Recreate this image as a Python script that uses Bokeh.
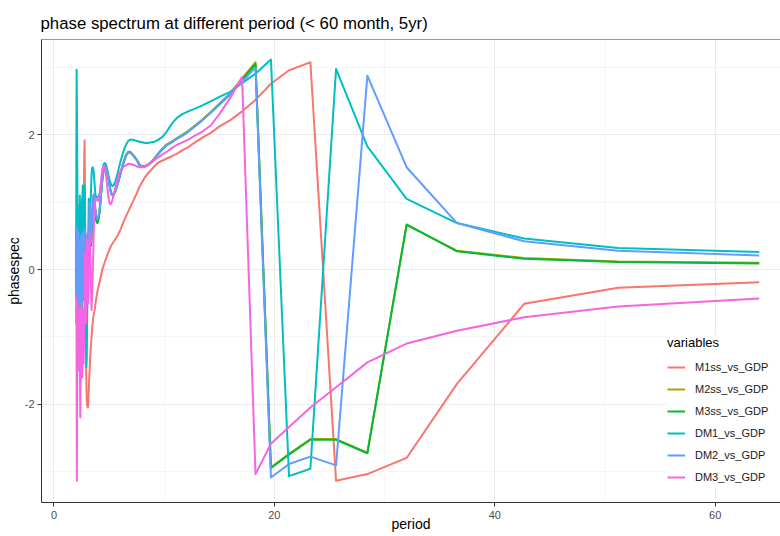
from bokeh.plotting import figure
from bokeh.models import Range1d, FixedTicker, Legend, LegendItem, Span
from bokeh.embed import file_html
from bokeh.resources import INLINE

# Period (months) of each spectral estimate
periods = [
    64.00, 51.20, 42.67, 36.57, 32.00, 28.44, 25.60, 23.27, 21.33, 19.69,
    18.29, 17.07, 16.00, 15.06, 14.22, 13.47, 12.80, 12.19, 11.64, 11.13,
    10.67, 10.24, 9.85, 9.48, 9.14, 8.83, 8.53, 8.26, 8.00, 7.76,
    7.53, 7.31, 7.11, 6.92, 6.74, 6.56, 6.40, 6.24, 6.10, 5.95,
    5.82, 5.69, 5.57, 5.45, 5.33, 5.22, 5.12, 5.02, 4.92, 4.83,
    4.74, 4.65, 4.57, 4.49, 4.41, 4.34, 4.27, 4.20, 4.13, 4.06,
    4.00, 3.94, 3.88, 3.82, 3.76, 3.71, 3.66, 3.61, 3.56, 3.51,
    3.46, 3.41, 3.37, 3.32, 3.28, 3.24, 3.20, 3.16, 3.12, 3.08,
    3.05, 3.01, 2.98, 2.94, 2.91, 2.88, 2.84, 2.81, 2.78, 2.75,
    2.72, 2.69, 2.67, 2.64, 2.61, 2.59, 2.56, 2.53, 2.51, 2.49,
    2.46, 2.44, 2.42, 2.39, 2.37, 2.35, 2.33, 2.31, 2.29, 2.27,
    2.25, 2.23, 2.21, 2.19, 2.17, 2.15, 2.13, 2.12, 2.10, 2.08,
    2.06, 2.05, 2.03, 2.02, 2.00,
]

m1ss_vs_gdp = [
    -0.19, -0.27, -0.51, -1.70, -2.80, -3.04, -3.14, 3.08, 2.96, 2.76,
    2.52, 2.35, 2.22, 2.13, 2.03, 1.96, 1.89, 1.82, 1.77, 1.72,
    1.68, 1.65, 1.62, 1.59, 1.54, 1.48, 1.43, 1.37, 1.30, 1.23,
    1.14, 1.06, 0.99, 0.93, 0.86, 0.80, 0.74, 0.68, 0.62, 0.56,
    0.52, 0.48, 0.45, 0.42, 0.39, 0.36, 0.33, 0.29, 0.25, 0.21,
    0.17, 0.13, 0.09, 0.05, 0.01, -0.04, -0.09, -0.14, -0.19, -0.24,
    -0.28, -0.33, -0.39, -0.45, -0.52, -0.58, -0.63, -0.67, -0.72, -0.80,
    -0.90, -1.00, -1.10, -1.22, -1.35, -1.48, -1.62, -1.80, -1.98, -2.05,
    -2.04, -2.02, -1.95, -1.70, -1.20, -0.50, 0.40, 1.30, 1.92, 1.70,
    1.20, 0.80, 0.55, 0.95, 1.15, 0.70, 0.30, 0.60, 1.05, 0.85,
    0.40, 0.20, 0.55, 0.90, 0.60, 0.25, 0.45, 0.80, 0.50, 0.15,
    0.35, 0.70, 0.95, 0.60, 0.30, 0.50, 0.85, 0.40, 0.20, 0.55,
    0.30, 0.10, 0.40, 0.25, 0.15,
]

m2ss_vs_gdp = [
    0.10, 0.12, 0.17, 0.28, 0.66, -2.72, -2.52, -2.52, -2.74, -2.94,
    3.08, 2.84, 2.62, 2.47, 2.34, 2.23, 2.14, 2.06, 2.00, 1.95,
    1.90, 1.86, 1.80, 1.73, 1.66, 1.60, 1.56, 1.54, 1.54, 1.56,
    1.63, 1.68, 1.72, 1.75, 1.75, 1.71, 1.64, 1.56, 1.47, 1.38,
    1.30, 1.23, 1.17, 1.13, 1.11, 1.13, 1.19, 1.28, 1.38, 1.46,
    1.52, 1.54, 1.53, 1.47, 1.37, 1.25, 1.11, 0.97, 0.85, 0.77,
    0.72, 0.70, 0.71, 0.77, 0.87, 0.98, 1.07, 1.11, 1.04, 0.89,
    0.71, 0.51, 0.36, 0.51, 0.81, 0.96, 0.66, 0.31, 0.01, 0.26,
    0.51, 0.16, -0.24, 0.06, 0.41, 0.26, -0.14, 0.21, 0.56, 0.36,
    -0.04, -0.44, -0.14, 0.26, 0.51, 0.16, -0.34, -0.64, -0.24, 0.21,
    0.46, 0.06, -0.39, -0.54, -0.19, 0.26, 0.41, 0.01, -0.44, -0.74,
    -0.34, 0.16, 0.51, 0.16, -0.29, -0.49, -0.04, 0.36, 0.59, 0.26,
    -0.14, -0.44, -0.24, 0.16, 0.41,
]

m3ss_vs_gdp = [
    0.09, 0.11, 0.16, 0.27, 0.67, -2.73, -2.53, -2.53, -2.75, -2.95,
    3.05, 2.82, 2.60, 2.46, 2.33, 2.22, 2.13, 2.05, 1.99, 1.94,
    1.89, 1.85, 1.79, 1.72, 1.65, 1.59, 1.55, 1.53, 1.53, 1.55,
    1.62, 1.67, 1.71, 1.74, 1.74, 1.70, 1.63, 1.55, 1.46, 1.37,
    1.29, 1.22, 1.16, 1.12, 1.10, 1.12, 1.18, 1.27, 1.37, 1.45,
    1.51, 1.53, 1.52, 1.46, 1.36, 1.24, 1.10, 0.96, 0.84, 0.76,
    0.71, 0.69, 0.70, 0.76, 0.86, 0.97, 1.06, 1.10, 1.03, 0.88,
    0.70, 0.50, 0.35, 0.50, 0.80, 0.95, 0.65, 0.30, 0.00, 0.25,
    0.50, 0.15, -0.25, 0.05, 0.40, 0.25, -0.15, 0.20, 0.55, 0.35,
    -0.05, -0.45, -0.15, 0.25, 0.50, 0.15, -0.35, -0.65, -0.25, 0.20,
    0.45, 0.05, -0.40, -0.55, -0.20, 0.25, 0.40, 0.00, -0.45, -0.75,
    -0.35, 0.15, 0.50, 0.15, -0.30, -0.50, -0.05, 0.35, 0.58, 0.25,
    -0.15, -0.45, -0.25, 0.15, 0.40,
]

dm1_vs_gdp = [
    0.26, 0.32, 0.46, 0.69, 1.05, 1.83, 2.98, -2.96, -3.07, 3.12,
    2.91, 2.77, 2.64, 2.57, 2.50, 2.44, 2.39, 2.35, 2.31, 2.25,
    2.16, 2.05, 1.97, 1.93, 1.90, 1.89, 1.88, 1.88, 1.89, 1.90,
    1.91, 1.92, 1.93, 1.93, 1.91, 1.86, 1.80, 1.72, 1.64, 1.55,
    1.46, 1.38, 1.31, 1.26, 1.24, 1.25, 1.29, 1.35, 1.42, 1.49,
    1.55, 1.58, 1.58, 1.55, 1.48, 1.39, 1.29, 1.19, 1.12, 1.09,
    1.08, 1.07, 1.07, 1.08, 1.12, 1.22, 1.34, 1.44, 1.50, 1.52,
    1.50, 1.40, 1.20, 0.95, 0.70, 0.55, 0.80, 1.05, 0.60, 0.20,
    -0.30, -0.80, -1.30, -1.45, -1.00, -0.40, 0.30, 0.90, 1.25, 1.10,
    0.60, 0.20, 0.50, 1.10, 1.25, 0.80, 0.40, 0.10, 0.60, 1.00,
    0.70, 0.30, -0.20, 0.20, 0.70, 1.10, 0.80, 0.40, 0.00, 0.50,
    0.90, 0.60, 0.20, -0.40, 0.10, 0.60, 1.00, 1.40, 2.00, 2.50,
    2.97, 2.60, 1.80, 0.80, 0.40,
]

dm2_vs_gdp = [
    0.21, 0.28, 0.42, 0.69, 1.52, 2.88, -2.91, -2.78, -2.89, -3.09,
    3.00, 2.79, 2.61, 2.47, 2.33, 2.22, 2.13, 2.05, 1.99, 1.94,
    1.89, 1.85, 1.79, 1.72, 1.65, 1.59, 1.55, 1.53, 1.53, 1.55,
    1.62, 1.67, 1.71, 1.74, 1.74, 1.70, 1.63, 1.55, 1.46, 1.37,
    1.29, 1.22, 1.16, 1.12, 1.10, 1.12, 1.18, 1.27, 1.37, 1.45,
    1.51, 1.54, 1.53, 1.47, 1.37, 1.25, 1.12, 0.99, 0.88, 0.80,
    0.76, 0.75, 0.77, 0.82, 0.90, 1.00, 1.08, 1.12, 1.05, 0.90,
    0.75, 0.55, 0.40, 0.55, 0.85, 1.00, 0.70, 0.35, 0.05, 0.30,
    0.55, 0.20, -0.20, 0.10, 0.45, 0.30, -0.10, 0.25, 0.60, 0.40,
    0.00, -0.40, -0.10, 0.30, 0.55, 0.20, -0.30, -0.60, -0.20, 0.25,
    0.50, 0.10, -0.35, -0.50, -0.15, 0.30, 0.45, 0.05, -0.40, -0.70,
    -0.30, 0.20, 0.55, 0.20, -0.25, -0.45, 0.00, 0.40, 0.63, 0.30,
    -0.10, -0.40, -0.20, 0.20, 0.45,
]

dm3_vs_gdp = [
    -0.43, -0.55, -0.71, -0.91, -1.10, -1.38, -1.75, -2.05, -2.34, -2.59,
    -3.04, 2.86, 2.55, 2.32, 2.14, 2.05, 1.99, 1.93, 1.89, 1.85,
    1.80, 1.75, 1.71, 1.67, 1.63, 1.59, 1.56, 1.53, 1.52, 1.52,
    1.53, 1.55, 1.56, 1.57, 1.57, 1.55, 1.54, 1.51, 1.48, 1.44,
    1.38, 1.30, 1.22, 1.13, 1.05, 0.99, 0.97, 1.00, 1.10, 1.25,
    1.38, 1.47, 1.52, 1.54, 1.50, 1.42, 1.30, 1.18, 1.08, 1.03,
    1.02, 1.03, 1.04, 1.05, 1.03, 0.95, 0.80, 0.55, 0.20, -0.10,
    -0.40, -0.60, -0.35, 0.05, 0.40, 0.55, 0.30, -0.10, -0.50, -0.30,
    0.10, 0.45, 0.20, -0.30, -0.80, -0.50, -0.10, 0.25, -0.20, -0.70,
    -1.10, -1.40, -1.00, -0.60, -0.90, -1.30, -1.60, -1.20, -0.80, -0.50,
    -0.90, -1.30, -1.70, -2.20, -1.60, -1.00, -0.60, -0.90, -1.40, -1.10,
    -0.70, -1.00, -1.50, -1.20, -0.80, -0.50, -0.90, -1.50, -2.20, -3.14,
    -2.00, -1.00, -0.60, -0.40, -0.80,
]

series_names = ["M1ss_vs_GDP", "M2ss_vs_GDP", "M3ss_vs_GDP",
                "DM1_vs_GDP", "DM2_vs_GDP", "DM3_vs_GDP"]
series_values = [m1ss_vs_gdp, m2ss_vs_gdp, m3ss_vs_gdp,
                 dm1_vs_gdp, dm2_vs_gdp, dm3_vs_gdp]
series_colors = ["#F8766D", "#B79F00", "#00BA38", "#00BFC4", "#619CFF", "#F564E3"]

x_ticks = [0, 20, 40, 60]
x_minor = [10, 30, 50]
y_ticks = [-2, 0, 2]
y_minor = [-3, -1, 1, 3]

FONT = "Liberation Sans"
Y_TOP = 3.418
Y_BOTTOM = -3.462

p = figure(width=780, height=536, output_backend="svg", toolbar_location=None,
           x_range=Range1d(-1.13, 65.93), y_range=Range1d(Y_BOTTOM, Y_TOP),
           min_border_left=41, min_border_right=0, min_border_top=39,
           min_border_bottom=34,
           title="phase spectrum at different period (< 60 month, 5yr)")
p.outline_line_color = None
p.background_fill_color = "white"
p.border_fill_color = "white"

p.title.text_font = FONT
p.title.text_font_size = "16.8px"
p.title.text_font_style = "normal"
p.title.text_color = "black"
p.title.standoff = 14
p.title.offset = -1

# axes and ticks
p.xaxis.ticker = FixedTicker(ticks=x_ticks, minor_ticks=x_minor)
p.yaxis.ticker = FixedTicker(ticks=y_ticks, minor_ticks=y_minor)
p.xgrid.ticker = FixedTicker(ticks=x_ticks, minor_ticks=x_minor)
p.ygrid.ticker = FixedTicker(ticks=y_ticks, minor_ticks=y_minor)
p.yaxis.major_label_overrides = {t: str(t) for t in y_ticks}
p.xaxis.major_label_overrides = {t: str(t) for t in x_ticks}

for ax in (p.xaxis[0], p.yaxis[0]):
    ax.axis_line_color = "#333333"
    ax.axis_line_width = 1
    ax.major_tick_line_color = "#333333"
    ax.major_tick_out = 4
    ax.major_tick_in = 0
    ax.minor_tick_line_color = None
    ax.major_label_text_font = FONT
    ax.major_label_text_font_size = "11px"
    ax.major_label_text_color = "#4D4D4D"
    ax.major_label_standoff = 3
    ax.axis_label_text_font = FONT
    ax.axis_label_text_font_size = "14px"
    ax.axis_label_text_font_style = "normal"
    ax.axis_label_text_color = "black"

p.yaxis.axis_label = "phasespec"
p.yaxis.axis_label_standoff = 0
p.xaxis.axis_label = "period"
p.xaxis.major_label_standoff = 4
p.xaxis.axis_label_standoff = -6

for g in (p.xgrid[0], p.ygrid[0]):
    g.grid_line_color = "#EBEBEB"
    g.grid_line_width = 1
    g.minor_grid_line_color = "#F2F2F2"
    g.minor_grid_line_width = 0.8

# top edge of the panel box
p.add_layout(Span(location=Y_TOP, dimension="width",
                  line_color="#333333", line_width=1))

items = []
for name, vals, color in zip(series_names, series_values, series_colors):
    r = p.line(periods, vals, line_color=color, line_width=2,
               line_join="round")
    items.append(LegendItem(label=name, renderers=[r]))

legend = Legend(items=items, location=(626, 15), title="variables")
legend.background_fill_color = "white"
legend.background_fill_alpha = 1
legend.border_line_color = None
legend.padding = 6
legend.spacing = 2
legend.margin = 0
legend.label_height = 20
legend.glyph_height = 20
legend.glyph_width = 18
legend.label_standoff = 10
legend.label_width = 90
legend.title_text_font = FONT
legend.title_text_font_size = "13px"
legend.title_text_font_style = "normal"
legend.title_text_color = "black"
legend.title_standoff = 7
legend.label_text_font = FONT
legend.label_text_font_size = "11px"
legend.label_text_color = "#1A1A1A"
p.add_layout(legend)

with open("out.html", "w") as f:
    f.write(file_html(p, INLINE))
